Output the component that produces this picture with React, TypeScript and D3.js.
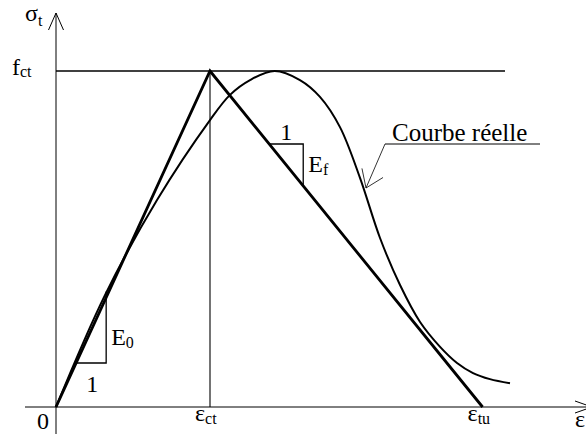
import React from "react";
import * as d3 from "d3";

// Strain values are in units of eps_ct, stress values in units of f_ct.
const epsCt = 1.0;
const epsTu = 2.77;
const fCt = 1.0;

// Bilinear model: origin -> (eps_ct, f_ct) -> (eps_tu, 0)
const modelStrain = [0, epsCt, epsTu];
const modelStress = [0, fCt, 0];

// Measured ("real") curve
const realStrain = [0, 0.318, 0.656, 1.0, 1.13, 1.26, 1.42, 1.584, 1.714, 1.844, 1.974, 2.104, 2.234, 2.364, 2.494, 2.604, 2.708, 2.818, 2.948];
const realStress = [0, 0.333, 0.616, 0.854, 0.929, 0.973, 1.0, 0.973, 0.923, 0.833, 0.682, 0.503, 0.363, 0.253, 0.179, 0.131, 0.101, 0.083, 0.071];

// Axis labels
const xTickLabels = [
  { v: 0, main: "0", sub: "" },
  { v: epsCt, main: "ε", sub: "ct" },
  { v: epsTu, main: "ε", sub: "tu" },
];
const xAxisName = "ε";
const yAxisName = { main: "σ", sub: "t" };
const yTickLabel = { main: "f", sub: "ct" };
const curveLabel = "Courbe réelle";

const W = 586;
const H = 434;
const FONT = "'Liberation Serif', 'Times New Roman', serif";

const x = d3.scaleLinear().domain([0, 1]).range([56, 210]);
const y = d3.scaleLinear().domain([0, 1]).range([407, 71]);

export default function App() {
  const model = modelStrain.map((s, i) => [s, modelStress[i]] as [number, number]);
  const real = realStrain.map((s, i) => [s, realStress[i]] as [number, number]);
  const lineGen = d3
    .line<[number, number]>()
    .x((d) => x(d[0]))
    .y((d) => y(d[1]));
  const curveGen = d3
    .line<[number, number]>()
    .x((d) => x(d[0]))
    .y((d) => y(d[1]))
    .curve(d3.curveCatmullRom.alpha(0.5));

  const x0 = x(0);
  const y0 = y(0);
  const xCt = x(epsCt);
  const yF = y(fCt);

  // slope triangles
  const leftSlope = (yF - y0) / (xCt - x0);
  const rightSlope = (y0 - yF) / (x(epsTu) - xCt);
  const t1x1 = x0 + (363 - y0) / leftSlope;
  const t1x2 = t1x1 + 30;
  const t1yTop = y0 + leftSlope * (t1x2 - x0) - 6;
  const t2y = 144;
  const t2x1 = xCt + (t2y - yF) / rightSlope;
  const t2x2 = t2x1 + 34;
  const t2yBot = yF + rightSlope * (t2x2 - xCt);

  // leader arrow for the curve label
  const leadStart: [number, number] = [385, 144];
  const tip: [number, number] = [366, 188];
  const dx = leadStart[0] - tip[0];
  const dy = leadStart[1] - tip[1];
  const len = Math.hypot(dx, dy);
  const ux = dx / len;
  const uy = dy / len;
  const arm = (ang: number) => {
    const c = Math.cos(ang);
    const s = Math.sin(ang);
    return [tip[0] + 20 * (ux * c - uy * s), tip[1] + 20 * (ux * s + uy * c)];
  };
  const a1 = arm((35 * Math.PI) / 180);
  const a2 = arm((-35 * Math.PI) / 180);

  const mainSize = 24;
  const subSize = 16;

  return (
    <svg
      width={W}
      height={H}
      style={{ position: "absolute", left: 0, top: 0, background: "#fff" }}
      fontFamily={FONT}
    >
      <rect width={W} height={H} fill="#fff" />
      {/* axes */}
      <line x1={25} y1={y0} x2={594} y2={y0} stroke="#000" strokeWidth={1} />
      <line x1={x0} y1={434} x2={x0} y2={13} stroke="#000" strokeWidth={1} />
      <polyline points={`${x0 - 7.5},30 ${x0},13 ${x0 + 7.5},30`} fill="none" stroke="#000" strokeWidth={1} />
      <polyline points={`575,${y0 - 6} 592,${y0} 575,${y0 + 6}`} fill="none" stroke="#000" strokeWidth={1} />

      {/* f_ct level and eps_ct guide */}
      <line x1={x0} y1={yF} x2={505} y2={yF} stroke="#000" strokeWidth={1.3} />
      <line x1={xCt} y1={yF} x2={xCt} y2={y0} stroke="#000" strokeWidth={1.1} />

      {/* measured curve */}
      <path d={curveGen(real) || ""} fill="none" stroke="#000" strokeWidth={2} />
      {/* bilinear model */}
      <path d={lineGen(model) || ""} fill="none" stroke="#000" strokeWidth={2.8} strokeLinejoin="miter" />

      {/* slope triangle E0 */}
      <polyline
        points={`${t1x1},363 ${t1x2},363 ${t1x2},${t1yTop}`}
        fill="none"
        stroke="#000"
        strokeWidth={1.3}
      />
      <text x={(t1x1 + t1x2) / 2 + 1} y={392} fontSize={mainSize} textAnchor="middle">1</text>
      <text x={t1x2 + 5} y={345} fontSize={mainSize}>
        E<tspan fontSize={subSize} dy={3}>0</tspan>
      </text>

      {/* slope triangle Ef */}
      <polyline
        points={`${t2x1},${t2y} ${t2x2},${t2y} ${t2x2},${t2yBot}`}
        fill="none"
        stroke="#000"
        strokeWidth={1.3}
      />
      <text x={(t2x1 + t2x2) / 2} y={140} fontSize={mainSize} textAnchor="middle">1</text>
      <text x={t2x2 + 5} y={172} fontSize={mainSize}>
        E<tspan fontSize={subSize} dy={3}>f</tspan>
      </text>

      {/* curve label with leader */}
      <text x={392} y={141} fontSize={25}>{curveLabel}</text>
      <line x1={leadStart[0]} y1={leadStart[1]} x2={540} y2={leadStart[1]} stroke="#000" strokeWidth={1} />
      <line x1={leadStart[0]} y1={leadStart[1]} x2={tip[0]} y2={tip[1]} stroke="#000" strokeWidth={0.8} />
      <polyline points={`${a1[0]},${a1[1]} ${tip[0]},${tip[1]} ${a2[0]},${a2[1]}`} fill="none" stroke="#000" strokeWidth={0.8} />

      {/* axis labels */}
      <text x={25} y={21} fontSize={mainSize}>
        {yAxisName.main}
        <tspan fontSize={subSize} dy={5}>{yAxisName.sub}</tspan>
      </text>
      <text x={12} y={75} fontSize={mainSize}>
        {yTickLabel.main}
        <tspan fontSize={subSize} dy={2}>{yTickLabel.sub}</tspan>
      </text>
      {xTickLabels.map((t, i) =>
        t.sub ? (
          <text key={i} x={x(t.v) - 15} y={421} fontSize={mainSize}>
            {t.main}
            <tspan fontSize={subSize} dy={3}>{t.sub}</tspan>
          </text>
        ) : (
          <text key={i} x={x(t.v) - 13} y={429} fontSize={mainSize} textAnchor="middle">
            {t.main}
          </text>
        )
      )}
      <text x={575} y={427} fontSize={mainSize}>{xAxisName}</text>
    </svg>
  );
}
